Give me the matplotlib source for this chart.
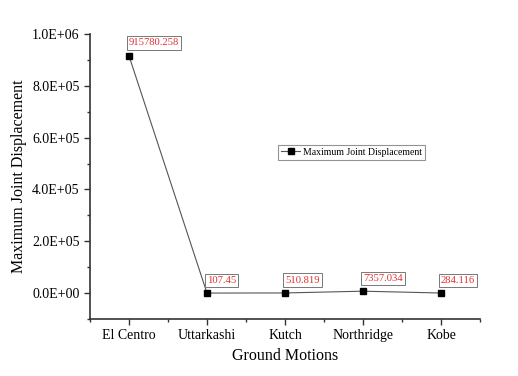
import matplotlib
matplotlib.use("Agg")
import matplotlib.pyplot as plt
from matplotlib.ticker import MultipleLocator, FuncFormatter

categories = ["El Centro", "Uttarkashi", "Kutch", "Northridge", "Kobe"]
values = [915780.258, 107.45, 510.819, 7357.034, 284.116]
labels = ["915780.258", "107.45", "510.819", "7357.034", "284.116"]

plt.rcParams['font.family'] = ['Liberation Serif', 'DejaVu Serif']

fig = plt.figure(figsize=(5.18, 3.76), dpi=100)
ax = fig.add_axes([0.1737, 0.1516, 0.7529, 0.758])

x = list(range(1, len(categories) + 1))
ax.plot(x, values, color='#555555', lw=0.8, marker='s', ms=5,
        mfc='black', mec='black', label='Maximum Joint Displacement')

for xi, v, lab in zip(x, values, labels):
    ax.annotate(lab, (xi, v), xytext=(0, 6), textcoords='offset points',
                color='#e03030', fontsize=7.7, ha='left', va='bottom',
                bbox=dict(boxstyle='square,pad=0.2', fc='white', ec='#777777', lw=0.7))

ax.set_xlim(0.5, 5.5)
ax.set_ylim(-1e5, 1e6)
ax.set_xticks(x)
ax.set_xticklabels(categories, fontsize=10)
ax.xaxis.set_minor_locator(MultipleLocator(0.5))
ax.yaxis.set_major_locator(MultipleLocator(2e5))
ax.yaxis.set_minor_locator(MultipleLocator(1e5))

def fmt(v, pos):
    if abs(v) < 1:
        return "0.0E+00"
    s = "%.1E" % v
    return s
ax.yaxis.set_major_formatter(FuncFormatter(fmt))
ax.tick_params(axis='y', labelsize=10)

for s in ['top', 'right']:
    ax.spines[s].set_visible(False)
for s in ['left', 'bottom']:
    ax.spines[s].set_linewidth(1.2)
    ax.spines[s].set_color('#333333')
ax.tick_params(which='major', direction='out', length=4, width=1, color='#333333')
ax.tick_params(which='minor', direction='out', length=2.5, width=1, color='#333333')

ax.set_xlabel('Ground Motions', fontsize=11.5)
ax.set_ylabel('Maximum Joint Displacement', fontsize=11.5)

leg = ax.legend(loc='center left', bbox_to_anchor=(0.47, 0.585), fontsize=7,
                frameon=True, fancybox=False, edgecolor='#777777',
                handlelength=2.0, borderpad=0.3, handletextpad=0.3, markerscale=0.8)
leg.get_frame().set_linewidth(0.8)

fig.savefig("out.png", dpi=100)
